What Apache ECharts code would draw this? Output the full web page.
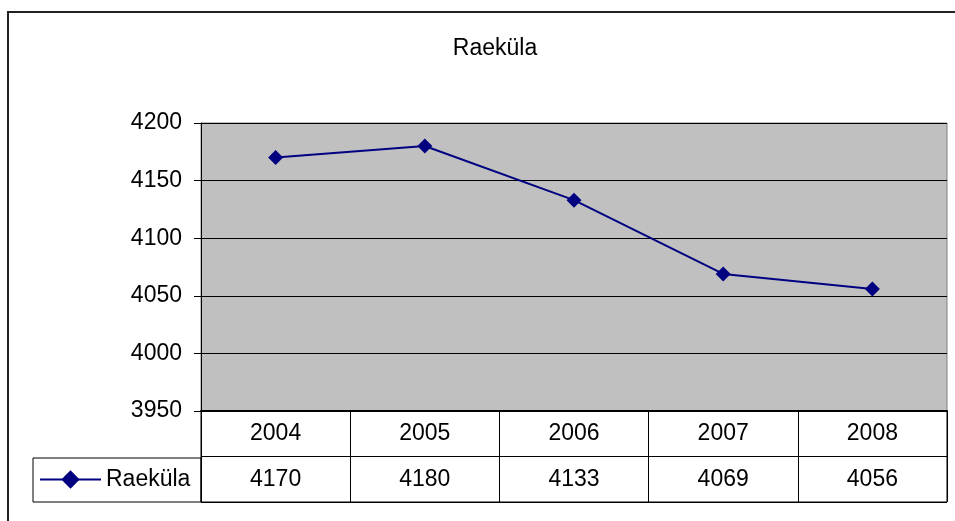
<!DOCTYPE html>
<html>
<head>
<meta charset="utf-8">
<script src="https://cdn.jsdelivr.net/npm/echarts@6/dist/echarts.min.js"></script>
<style>
html,body{margin:0;padding:0;background:#fff;}
#c{width:955px;height:521px;}
</style>
</head>
<body>
<div id="c"></div>
<script>
var titleText = 'Raeküla';
var seriesName = 'Raeküla';
var categories = ['2004', '2005', '2006', '2007', '2008'];
var values = [4170, 4180, 4133, 4069, 4056];
var yMin = 3950, yMax = 4200, yStep = 50;

var FONT = 'Liberation Sans, Arial, sans-serif';
var FS = 23;
var chart = echarts.init(document.getElementById('c'));
chart.setOption({
  backgroundColor: '#fff',
  animation: false,
  title: {
    text: titleText, left: 490, top: 32, textAlign: 'center',
    textStyle: {fontFamily: FONT, fontSize: FS, fontWeight: 'normal', color: '#000'}
  },
  legend: {
    data: [seriesName], left: 34, top: 463, itemWidth: 61, itemHeight: 23, itemGap: 0,
    textStyle: {fontFamily: FONT, fontSize: FS, color: '#000'}
  },
  graphic: [
    {type: 'rect', shape: {x: 8, y: 12, width: 960, height: 530}, style: {fill: 'none', stroke: '#222', lineWidth: 2}, silent: true, z: -1},
    {type: 'rect', shape: {x: 33, y: 458, width: 168, height: 44}, style: {fill: 'none', stroke: '#000', lineWidth: 1}, silent: true}
  ],
  grid: [
    {left: 201, top: 123, width: 746, height: 288, show: true, backgroundColor: '#C0C0C0', borderColor: '#808080', borderWidth: 1},
    {left: 201, top: 411, width: 746, height: 91, show: true, backgroundColor: 'transparent', borderColor: '#000', borderWidth: 1}
  ],
  xAxis: [
    {gridIndex: 0, type: 'category', data: categories, boundaryGap: true,
     axisLine: {lineStyle: {color: '#000', width: 2}}, axisTick: {show: false}, axisLabel: {show: false}, splitLine: {show: false}},
    {gridIndex: 1, type: 'category', data: categories, position: 'top', boundaryGap: true,
     axisLine: {show: false}, axisTick: {show: false},
     splitLine: {show: true, lineStyle: {color: '#000', width: 1}},
     axisLabel: {inside: true, margin: 23, verticalAlign: 'middle', fontFamily: FONT, fontSize: FS, color: '#000'}},
    {gridIndex: 1, type: 'category', data: values.map(String), position: 'bottom', boundaryGap: true,
     axisLine: {show: false}, axisTick: {show: false}, splitLine: {show: false},
     axisLabel: {inside: true, margin: 22, verticalAlign: 'middle', fontFamily: FONT, fontSize: FS, color: '#000'}}
  ],
  yAxis: [
    {gridIndex: 0, type: 'value', min: yMin, max: yMax, interval: yStep,
     axisLine: {show: true, lineStyle: {color: '#000', width: 1}},
     axisTick: {show: true, length: 7, lineStyle: {color: '#000'}},
     splitLine: {show: true, lineStyle: {color: '#000', width: 1}},
     axisLabel: {margin: 19, fontFamily: FONT, fontSize: FS, color: '#000', formatter: function (v) { return String(v); }}},
    {gridIndex: 1, type: 'value', min: 0, max: 2, interval: 1,
     axisLine: {show: true, lineStyle: {color: '#000'}}, axisTick: {show: false}, axisLabel: {show: false},
     splitLine: {show: true, lineStyle: {color: '#000', width: 1}}}
  ],
  series: [{
    name: seriesName, type: 'line', xAxisIndex: 0, yAxisIndex: 0, data: values,
    symbol: 'diamond', symbolSize: 15,
    lineStyle: {color: '#000080', width: 2},
    itemStyle: {color: '#000080'}
  }]
});
</script>
</body>
</html>
